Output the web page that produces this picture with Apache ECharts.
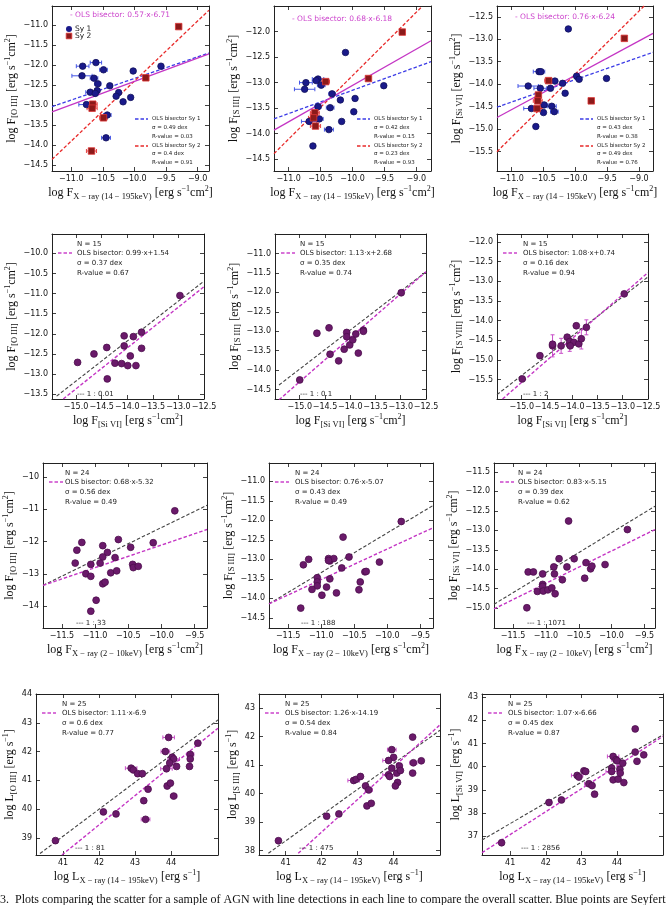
<!DOCTYPE html>
<html><head><meta charset="utf-8">
<script src="https://cdn.jsdelivr.net/npm/echarts@6/dist/echarts.min.js"></script>
<style>html,body{margin:0;padding:0;background:#fff}#c{width:666px;height:905px}</style>
</head><body><div id="c"></div>
<script>
// ---------------- DATA ----------------
// Row 1: [x, y, xerr]
const P1_SY1 = [[-10.82,-12.03,0.10],[-10.61,-11.94,0.09],[-10.49,-12.12,0.06],[-10.83,-12.27,0.16],[-10.64,-12.33,0.06],[-10.58,-12.47,0.05],[-10.39,-12.52,0],[-10.70,-12.68,0.07],[-10.59,-12.64,0],[-10.62,-12.71,0],[-10.76,-12.99,0.12],[-10.25,-12.69,0],[-10.29,-12.78,0],[-10.18,-12.92,0],[-10.06,-12.81,0],[-10.02,-12.15,0],[-9.58,-12.03,0],[-10.43,-13.25,0.06],[-10.45,-13.82,0.07]];
const P1_SY2 = [[-9.30,-11.04,0],[-9.82,-12.32,0],[-10.66,-12.98,0.07],[-10.67,-13.08,0.08],[-10.49,-13.32,0.06],[-10.68,-14.15,0.08]];
const P2_SY1 = [[-10.73,-13.0,0.10],[-10.75,-13.13,0.16],[-10.54,-12.93,0.09],[-10.57,-12.96,0],[-10.49,-13.05,0.06],[-10.11,-12.41,0],[-10.32,-13.22,0.05],[-10.19,-13.34,0],[-9.96,-13.31,0],[-9.51,-13.06,0],[-9.98,-13.57,0],[-10.17,-13.76,0],[-10.35,-13.49,0.06],[-10.54,-13.47,0.05],[-10.52,-13.71,0.06],[-10.68,-13.76,0.12],[-10.37,-13.92,0.07],[-10.62,-14.24,0]];
const P2_SY2 = [[-9.22,-12.01,0],[-9.75,-12.92,0],[-10.42,-12.98,0.06],[-10.59,-13.59,0.07],[-10.61,-13.69,0.08],[-10.58,-13.85,0.08]];
const P3_SY1 = [[-10.11,-12.77,0],[-10.74,-14.04,0.16],[-10.55,-14.09,0.10],[-10.39,-14.09,0],[-10.32,-13.93,0],[-10.57,-13.72,0.09],[-10.54,-13.72,0],[-10.20,-13.98,0],[-9.98,-13.82,0],[-9.94,-13.89,0],[-9.51,-13.87,0],[-10.16,-14.20,0],[-10.69,-14.54,0.12],[-10.49,-14.46,0.06],[-10.37,-14.49,0.07],[-10.33,-14.61,0.06],[-10.50,-14.63,0],[-10.62,-14.94,0]];
const P3_SY2 = [[-9.23,-12.98,0],[-9.75,-14.37,0],[-10.42,-13.92,0.06],[-10.58,-14.24,0],[-10.59,-14.37,0.07],[-10.60,-14.54,0.08]];
// Rows 2-4: [x, y, xerr, yerr]
const P4_PTS = [[-12.97,-11.05],[-14.97,-12.71],[-14.65,-12.50],[-14.40,-12.34],[-14.39,-13.12],[-14.24,-12.73],[-14.11,-12.74],[-13.99,-12.79],[-13.83,-12.79],[-14.06,-12.05],[-14.06,-12.30],[-13.94,-12.55],[-13.88,-12.07],[-13.72,-11.96],[-13.72,-12.36]];
const P5_PTS = [[-12.99,-12.01],[-15.0,-14.25],[-14.66,-13.05],[-14.42,-12.91],[-14.40,-13.59],[-14.23,-13.76],[-14.07,-13.03],[-14.07,-13.14],[-14.12,-13.46],[-14.01,-13.35],[-13.95,-13.22],[-13.89,-13.07],[-13.84,-13.56],[-13.74,-12.97],[-13.74,-13.0]];
const P6_PTS = [[-12.97,-13.32,0,0],[-14.99,-15.48,0,0],[-14.64,-14.89,0,0],[-14.39,-14.64,0,0.28],[-14.22,-14.64,0,0.19],[-14.10,-14.42,0,0],[-14.05,-14.61,0,0.17],[-14.05,-14.53,0,0],[-13.97,-14.55,0,0],[-13.92,-14.13,0,0],[-13.87,-14.59,0,0],[-13.82,-14.46,0,0.26],[-13.72,-14.17,0,0.19],[-14.39,-14.60,0,0],[-14.04,-14.64,0,0]];
const P7_PTS = [[-9.80,-11.05],[-10.125,-12.04],[-10.465,-12.18],[-10.65,-11.94],[-10.885,-12.13],[-10.815,-12.34],[-10.885,-12.48],[-11.2,-12.03],[-11.275,-12.27],[-11.3,-12.67],[-11.065,-12.71],[-11.14,-13.0],[-11.065,-13.08],[-10.925,-12.67],[-10.70,-12.50],[-10.765,-12.97],[-10.675,-12.91],[-10.435,-12.71],[-10.425,-12.81],[-10.35,-12.77],[-10.885,-13.31],[-10.85,-13.26],[-10.985,-13.82],[-11.065,-14.16]];
const P8_PTS = [[-9.79,-12.03],[-10.67,-12.43],[-10.12,-13.07],[-11.27,-13.14],[-11.19,-13.0],[-10.89,-12.98],[-10.87,-13.04],[-10.81,-12.98],[-10.58,-12.94],[-10.69,-13.22],[-10.87,-13.5],[-11.06,-13.47],[-11.06,-13.58],[-11.06,-13.68],[-11.14,-13.77],[-10.99,-13.92],[-10.92,-13.71],[-10.77,-13.86],[-11.31,-14.25],[-10.41,-13.58],[-10.43,-13.78],[-10.34,-13.32],[-10.32,-13.31],[-10.89,-13.03]];
const P9_PTS = [[-9.76,-12.98],[-10.655,-12.76],[-10.10,-13.88],[-11.27,-14.07],[-11.19,-14.07],[-10.80,-13.73],[-10.57,-13.73],[-10.88,-13.94],[-10.68,-13.94],[-11.05,-14.12],[-10.87,-14.12],[-10.75,-14.27],[-10.39,-13.83],[-10.32,-13.99],[-10.30,-13.92],[-10.41,-14.23],[-11.05,-14.39],[-11.05,-14.44,0,0.1],[-11.13,-14.57],[-11.04,-14.56],[-10.97,-14.53],[-10.91,-14.48],[-10.86,-14.63],[-11.29,-14.99]];
const P10_PTS = [[40.79,38.9],[42.12,39.9],[42.47,39.83],[42.89,41.42,0.16],[42.95,41.36],[43.07,41.23],[43.2,41.23],[43.24,40.29],[43.36,40.69],[43.29,39.64,0.12],[43.93,42.49,0.16],[43.84,42.0,0.12],[44.03,41.80],[44.07,41.74,0.16],[43.96,41.6],[43.87,41.4,0.16],[44.15,41.48],[43.89,40.8],[43.98,40.9],[44.07,40.45,0.09],[44.53,41.9,0.1],[44.53,41.74],[44.51,41.48],[44.74,42.29]];
const P11_PTS = [[40.8,38.35],[42.14,39.21],[42.48,39.29],[42.89,40.46,0.16],[42.96,40.5],[43.08,40.6],[43.22,40.27],[43.31,40.13,0.1],[43.26,39.57],[43.38,39.66],[43.95,41.54,0.12],[44.0,41.27],[43.86,41.16,0.16],[44.16,40.97],[43.95,40.89],[43.86,40.66,0.16],[43.89,40.6],[44.09,40.72],[44.19,40.81],[44.11,40.39],[44.05,40.27],[44.53,41.98],[44.55,41.08,0.1],[44.53,40.72],[44.77,41.15]];
const P12_PTS = [[40.76,36.71],[42.09,38.45],[42.44,38.56],[42.88,39.62,0.16],[42.93,39.55],[43.07,39.82],[43.12,39.79],[43.21,39.26,0.12],[43.30,39.18],[43.37,38.81],[43.89,40.44,0.16],[43.97,40.30,0.12],[44.0,40.25],[43.85,39.94],[43.85,39.79,0.16],[43.89,39.43],[44.03,39.46],[44.08,39.89],[44.09,39.72],[44.16,40.15],[44.19,39.31],[44.51,41.63],[44.51,40.63],[44.56,40.23],[44.75,40.51]];

// fit lines (end points)
const BISECTOR_LINES = [
  [[-11.305,-13.17],[-8.82,-11.72]], [[-11.23,-13.93],[-8.77,-12.18]], [[-11.23,-14.74],[-8.78,-12.87]],
  [[-15.25,-13.62],[-12.5,-10.83]], [[-15.41,-14.76],[-12.5,-11.47]], [[-15.38,-15.99],[-12.5,-12.78]],
  [[-11.785,-13.36],[-9.315,-11.63]], [[-11.79,-14.14],[-9.31,-12.19]], [[-11.79,-15.02],[-9.34,-12.98]],
  [[40.97,38.4],[45.3,42.81]], [[41.35,37.91],[45.29,42.41]], [[40.21,36.28],[45.29,41.31]]
];
const SY1_FIT_LINES = [[[-11.305,-13.04],[-8.82,-11.70]], [[-11.23,-13.71],[-8.77,-12.59]], [[-11.23,-14.51],[-8.78,-13.29]]];
const SY2_FIT_LINES = [[[-11.305,-14.36],[-8.82,-10.63]], [[-11.23,-14.39],[-8.91,-11.51]], [[-11.23,-15.5],[-8.92,-12.26]]];
const RATIO_LINES = [
  [[-15.38,-13.55],[-12.5,-10.69]], [[-15.41,-14.38],[-12.5,-11.47]], [[-15.49,-15.88],[-12.5,-12.89]],
  [[-11.785,-13.36],[-9.315,-10.88]], [[-11.79,-14.14],[-9.31,-11.62]], [[-11.79,-14.90],[-9.34,-12.38]],
  [[40.36,38.45],[45.3,43.1]], [[40.52,37.91],[45.29,42.22]], [[40.21,36.83],[45.29,41.38]]
];

// texts
const ROW1_BISECTOR = ['0.57·x-6.71','0.68·x-6.18','0.76·x-6.24'];
const SY1_SIGMA = ['0.49','0.42','0.43'], SY1_R = ['0.03','0.15','0.38'];
const SY2_SIGMA = ['0.4','0.23','0.49'], SY2_R = ['0.91','0.93','0.76'];
const N_VALUES = [15,15,15,24,24,24,25,25,25];
const BISECTOR_TEXT = ['0.99·x+1.54','1.13·x+2.68','1.08·x+0.74','0.68·x-5.32','0.76·x-5.07','0.83·x-5.15','1.11·x-6.9','1.26·x-14.19','1.07·x-6.66'];
const SIGMA_TEXT = ['0.37','0.35','0.16','0.56','0.43','0.39','0.6','0.54','0.45'];
const R_TEXT = ['0.67','0.74','0.94','0.49','0.49','0.62','0.77','0.84','0.87'];
const RATIO_TEXT = ['0.01','0.1','2','33','188','1071','81','475','2856'];

// tick labels
const X_TICKS_ROW1 = [-11.0,-10.5,-10.0,-9.5,-9.0];
const X_TICKS_ROW2 = [-15.0,-14.5,-14.0,-13.5,-13.0,-12.5];
const X_TICKS_ROW3 = [-11.5,-11.0,-10.5,-10.0,-9.5];
const X_TICKS_ROW4 = [41,42,43,44];
const Y_TICKS_P1 = [-14.5,-14.0,-13.5,-13.0,-12.5,-12.0,-11.5,-11.0];
const Y_TICKS_P2 = [-14.5,-14.0,-13.5,-13.0,-12.5,-12.0];
const Y_TICKS_P3 = [-15.5,-15.0,-14.5,-14.0,-13.5,-13.0,-12.5];
const Y_TICKS_P4 = [-13.5,-13.0,-12.5,-12.0,-11.5,-11.0,-10.5,-10.0];
const Y_TICKS_P5 = [-14.5,-14.0,-13.5,-13.0,-12.5,-12.0,-11.5,-11.0];
const Y_TICKS_P6 = [-15.5,-15.0,-14.5,-14.0,-13.5,-13.0,-12.5,-12.0];
const Y_TICKS_P7 = [-14,-13,-12,-11,-10];
const Y_TICKS_P8 = [-14.5,-14.0,-13.5,-13.0,-12.5,-12.0,-11.5,-11.0];
const Y_TICKS_P9 = [-15.0,-14.5,-14.0,-13.5,-13.0,-12.5,-12.0,-11.5];
const Y_TICKS_P10 = [39,40,41,42,43,44];
const Y_TICKS_P11 = [38,39,40,41,42,43];
const Y_TICKS_P12 = [37,38,39,40,41,42,43];

const CAPTION = '3.  Plots comparing the scatter for a sample of AGN with line detections in each line to compare the overall scatter. Blue points are Seyfert';

// ---------------- LAYOUT ----------------
function nm(sym, sub, flux) {
  return '{a|log ' + sym + '}{s|' + sub + '} {a|[erg s}{p|\u22121}' + (flux ? '{a|cm}{p|2}{a|]}' : '{a|]}');
}
const XN1 = nm('F', 'X \u2212 ray (14 \u2212 195keV)', true);
const XN2 = nm('F', '[Si VI]', true);
const XN3 = nm('F', 'X \u2212 ray (2 \u2212 10keV)', true);
const XN4 = nm('L', 'X \u2212 ray (14 \u2212 195keV)', false);

const layout = [
  {g:[52,6,157,165],  xr:[-11.305,-8.82], yr:[-14.65,-10.525], xt:X_TICKS_ROW1, yt:Y_TICKS_P1, xd:1, yd:1, xn:XN1, yn:nm('F','[O III]',true), yg:32},
  {g:[274,6,157,165], xr:[-11.23,-8.77],  yr:[-14.73,-11.5],   xt:X_TICKS_ROW1, yt:Y_TICKS_P2, xd:1, yd:1, xn:XN1, yn:nm('F','[S III]',true), yg:32},
  {g:[497,6,156,165], xr:[-11.23,-8.78],  yr:[-15.93,-12.26],  xt:X_TICKS_ROW1, yt:Y_TICKS_P3, xd:1, yd:1, xn:XN1, yn:nm('F','[Si VI]',true), yg:32},
  {g:[52,234,152,165], xr:[-15.47,-12.5], yr:[-13.62,-9.52],   xt:X_TICKS_ROW2, yt:Y_TICKS_P4, xd:1, yd:1, xn:XN2, yn:nm('F','[O III]',true), yg:32},
  {g:[275,234,151,165], xr:[-15.49,-12.5], yr:[-14.74,-10.5],  xt:X_TICKS_ROW2, yt:Y_TICKS_P5, xd:1, yd:1, xn:XN2, yn:nm('F','[S III]',true), yg:32},
  {g:[497,234,151,165], xr:[-15.49,-12.5], yr:[-15.99,-11.8],  xt:X_TICKS_ROW2, yt:Y_TICKS_P6, xd:1, yd:1, xn:XN2, yn:nm('F','[S VIII]',true), yg:32},
  {g:[43,463,164,165], xr:[-11.785,-9.315], yr:[-14.68,-9.57], xt:X_TICKS_ROW3, yt:Y_TICKS_P7, xd:1, yd:0, xn:XN3, yn:nm('F','[O III]',true), yg:23},
  {g:[269,463,164,165], xr:[-11.79,-9.31], yr:[-14.76,-10.53], xt:X_TICKS_ROW3, yt:Y_TICKS_P8, xd:1, yd:1, xn:XN3, yn:nm('F','[S III]',true), yg:31},
  {g:[494,463,161,165], xr:[-11.79,-9.34], yr:[-15.51,-11.27], xt:X_TICKS_ROW3, yt:Y_TICKS_P9, xd:1, yd:1, xn:XN3, yn:nm('F','[Si VI]',true), yg:30},
  {g:[36,694,182,161], xr:[40.25,45.3], yr:[38.4,44.0],   xt:X_TICKS_ROW4, yt:Y_TICKS_P10, xd:0, yd:0, xn:XN4, yn:nm('L','[O III]',false), yg:15},
  {g:[259,694,181,161], xr:[40.26,45.29], yr:[37.85,43.49], xt:X_TICKS_ROW4, yt:Y_TICKS_P11, xd:0, yd:0, xn:XN4, yn:nm('L','[S III]',false), yg:16},
  {g:[482,694,181,161], xr:[40.21,45.29], yr:[36.18,43.14], xt:X_TICKS_ROW4, yt:Y_TICKS_P12, xd:0, yd:0, xn:XN4, yn:nm('L','[Si VI]',false), yg:16}
];
const pointSets = [null,null,null,P4_PTS,P5_PTS,P6_PTS,P7_PTS,P8_PTS,P9_PTS,P10_PTS,P11_PTS,P12_PTS];
const row1Sets = [[P1_SY1,P1_SY2],[P2_SY1,P2_SY2],[P3_SY1,P3_SY2]];

const SANS = '"DejaVu Sans", sans-serif';
const SERIF = '"Liberation Serif", serif';
const rich = {
  a: {fontFamily: SERIF, fontSize: 12, lineHeight: 16, color: '#111'},
  s: {fontFamily: SERIF, fontSize: 8.5, lineHeight: 9, verticalAlign: 'bottom', color: '#111'},
  p: {fontFamily: SERIF, fontSize: 8, lineHeight: 9, verticalAlign: 'top', color: '#111'}
};
const fmt = d => v => (d ? v.toFixed(d) : String(Math.round(v))).replace('-', '\u2212');

const C = {
  sy1: '#1a1a8a', sy1e: '#4455e6', sy2: '#8b1a1a', sy2b: '#dd3333', sy2e: '#e84343',
  pur: '#6a1a6a', purb: '#4c0e4c', pure: '#c84fc8',
  mag: '#c435c4', magd: '#cc44cc', blue: '#3c3ce6', red: '#e82a2a', blk: '#444'
};

const grids = [], xAxes = [], yAxes = [], series = [], graphics = [];

function errSeries(i, pts, color) {
  const data = pts.filter(p => (p[2] || 0) > 0 || (p[3] || 0) > 0).map(p => [p[0], p[1], p[2] || 0, p[3] || 0]);
  if (!data.length) return;
  series.push({
    type: 'custom', xAxisIndex: 2 * i, yAxisIndex: 2 * i, data, silent: true, z: 2, clip: true,
    encode: {x: 0, y: 1},
    renderItem: (params, api) => {
      const x = api.value(0), y = api.value(1), xe = api.value(2), ye = api.value(3);
      const segs = [];
      if (xe > 0) {
        const a = api.coord([x - xe, y]), b = api.coord([x + xe, y]);
        segs.push([a[0], a[1], b[0], b[1]], [a[0], a[1] - 2, a[0], a[1] + 2], [b[0], b[1] - 2, b[0], b[1] + 2]);
      }
      if (ye > 0) {
        const a = api.coord([x, y - ye]), b = api.coord([x, y + ye]);
        segs.push([a[0], a[1], b[0], b[1]], [a[0] - 2, a[1], a[0] + 2, a[1]], [b[0] - 2, b[1], b[0] + 2, b[1]]);
      }
      return {type: 'group', children: segs.map(s => ({type: 'line', shape: {x1: s[0], y1: s[1], x2: s[2], y2: s[3]}, style: {stroke: color, lineWidth: 1}}))};
    }
  });
}
function lineSeries(i, pts, color, dashed, width) {
  series.push({
    type: 'line', xAxisIndex: 2 * i, yAxisIndex: 2 * i, data: pts, symbol: 'none', showSymbol: false,
    silent: true, clip: true, z: 2,
    lineStyle: {color, width: width || 1.2, type: dashed ? [3.5, 2] : 'solid'}
  });
}
function scatterSeries(i, pts, symbol, color, border, size) {
  series.push({
    type: 'scatter', xAxisIndex: 2 * i, yAxisIndex: 2 * i, data: pts.map(p => [p[0], p[1]]),
    symbol, symbolSize: size, silent: true, z: 3,
    itemStyle: {color, borderColor: border, borderWidth: 0.8, opacity: 1}
  });
}
function txt(x, y, text, font, fill) {
  graphics.push({type: 'text', x, y, z: 50, silent: true, style: {text, font, fill: fill || '#222', verticalAlign: 'middle', align: 'left'}});
}
function dash(x1, x2, y, color) {
  graphics.push({type: 'line', z: 50, silent: true, shape: {x1, y1: y, x2, y2: y}, style: {stroke: color, lineWidth: 1.3, lineDash: [3.5, 2]}});
}

layout.forEach((L, i) => {
  const [l, t, w, h] = L.g;
  grids.push({left: l, top: t, width: w, height: h, containLabel: false});
  const tick = vals => ({show: true, inside: true, length: 4, customValues: vals, lineStyle: {color: '#111', width: 0.8}});
  const line = {show: true, onZero: false, lineStyle: {color: '#222', width: 1}};
  const lab = (vals, d) => ({customValues: vals, interval: 0, formatter: fmt(d), fontSize: 8, fontFamily: SANS, color: '#111', margin: 4, hideOverlap: false});
  xAxes.push({gridIndex: i, type: 'value', position: 'bottom', min: L.xr[0], max: L.xr[1], axisLine: line, axisTick: tick(L.xt),
    axisLabel: lab(L.xt, L.xd), splitLine: {show: false}, name: L.xn, nameLocation: 'middle', nameGap: 14, nameTextStyle: {rich}});
  xAxes.push({gridIndex: i, type: 'value', position: 'top', min: L.xr[0], max: L.xr[1], axisLine: line, axisTick: tick(L.xt),
    axisLabel: {show: false}, splitLine: {show: false}});
  yAxes.push({gridIndex: i, type: 'value', position: 'left', min: L.yr[0], max: L.yr[1], axisLine: line, axisTick: tick(L.yt),
    axisLabel: lab(L.yt, L.yd), splitLine: {show: false}, name: L.yn, nameLocation: 'middle', nameGap: L.yg, nameRotate: 90, nameTextStyle: {rich}});
  yAxes.push({gridIndex: i, type: 'value', position: 'right', min: L.yr[0], max: L.yr[1], axisLine: line, axisTick: tick(L.yt),
    axisLabel: {show: false}, splitLine: {show: false}});

  if (i < 3) {
    const [s1, s2] = row1Sets[i];
    lineSeries(i, SY1_FIT_LINES[i], C.blue, true, 1.3);
    lineSeries(i, SY2_FIT_LINES[i], C.red, true, 1.3);
    lineSeries(i, BISECTOR_LINES[i], C.mag, false, 1.3);
    errSeries(i, s1, C.sy1e);
    errSeries(i, s2, C.sy2e);
    scatterSeries(i, s1, 'circle', C.sy1, '#10105a', 6.5);
    scatterSeries(i, s2, 'rect', C.sy2, C.sy2b, 6.5);
    const topY = [9, 13, 11][i];
    txt(l + 18, t + topY, '- OLS bisector: ' + ROW1_BISECTOR[i], '7.5px ' + SANS, C.magd);
    if (i === 0) {
      graphics.push({type: 'circle', z: 50, silent: true, shape: {cx: l + 17, cy: t + 23, r: 3}, style: {fill: C.sy1}});
      graphics.push({type: 'rect', z: 50, silent: true, shape: {x: l + 14.2, y: t + 27.2, width: 5.6, height: 5.6}, style: {fill: C.sy2, stroke: C.sy2b, lineWidth: 0.8}});
      txt(l + 23, t + 23, 'Sy 1', '7.5px ' + SANS, '#222');
      txt(l + 23, t + 30, 'Sy 2', '7.5px ' + SANS, '#222');
    }
    const f5 = '5.5px ' + SANS;
    dash(l + 83, l + 96, t + 113, C.blue);
    txt(l + 100, t + 113, 'OLS bisector Sy 1', f5);
    txt(l + 100, t + 122, '\u03c3 = ' + SY1_SIGMA[i] + ' dex', f5);
    txt(l + 100, t + 131, 'R-value = ' + SY1_R[i], f5);
    dash(l + 83, l + 96, t + 140, C.red);
    txt(l + 100, t + 140, 'OLS bisector Sy 2', f5);
    txt(l + 100, t + 148, '\u03c3 = ' + SY2_SIGMA[i] + ' dex', f5);
    txt(l + 100, t + 157, 'R-value = ' + SY2_R[i], f5);
  } else {
    const k = i - 3;
    const pts = pointSets[i];
    lineSeries(i, RATIO_LINES[k], C.blk, true, 1.1);
    lineSeries(i, BISECTOR_LINES[i], C.mag, true, 1.4);
    errSeries(i, pts, C.pure);
    scatterSeries(i, pts, 'circle', C.pur, C.purb, 6.8);
    const tx = l + [25, 25, 26, 22, 26, 24, 26, 26, 26][k];
    const f7 = '7px ' + SANS;
    txt(tx, t + 10, 'N = ' + N_VALUES[k], f7);
    dash(l + 6, l + 20, t + 19, C.magd);
    txt(tx, t + 19, 'OLS bisector: ' + BISECTOR_TEXT[k], f7);
    txt(tx, t + 29, '\u03c3 = ' + SIGMA_TEXT[k] + ' dex', f7);
    txt(tx, t + 39, 'R-value = ' + R_TEXT[k], f7);
    const rx = l + [25, 25, 26, 33, 32, 33, 39, 40, 39][k];
    const ry = t + (k < 6 ? 160 : 154);
    txt(rx, ry, '--- 1 : ' + RATIO_TEXT[k], f7, '#222');
  }
});

graphics.push({type: 'text', x: 0, y: 894, z: 50, silent: true, style: {text: CAPTION, font: '12px ' + SERIF, fill: '#111', verticalAlign: 'top', align: 'left'}});

const chart = echarts.init(document.getElementById('c'), null, {renderer: 'canvas'});
chart.setOption({
  animation: false,
  backgroundColor: '#fff',
  grid: grids, xAxis: xAxes, yAxis: yAxes, series, graphic: graphics
});
</script></body></html>
